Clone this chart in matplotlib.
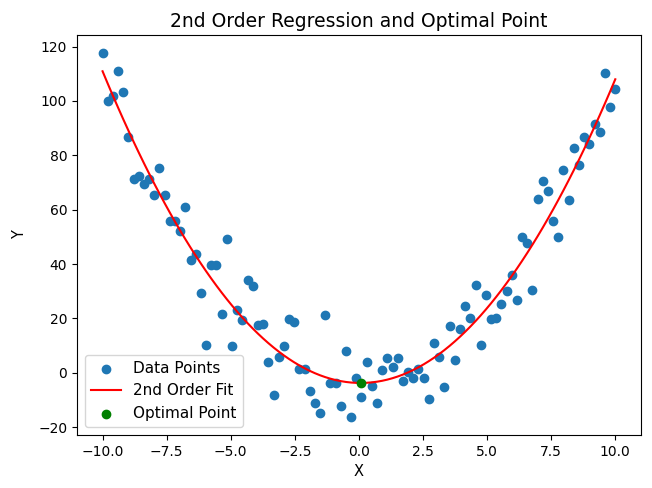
import numpy as np
import matplotlib
matplotlib.use("Agg")
from matplotlib import pyplot as plt

# x grid (100 evenly spaced samples from -10 to 10)
x_vals = [-10.0, -9.8, -9.6, -9.39, -9.19, -8.99, -8.79, -8.59, -8.38, -8.18,
          -7.98, -7.78, -7.58, -7.37, -7.17, -6.97, -6.77, -6.57, -6.36, -6.16,
          -5.96, -5.76, -5.56, -5.35, -5.15, -4.95, -4.75, -4.55, -4.34, -4.14,
          -3.94, -3.74, -3.54, -3.33, -3.13, -2.93, -2.73, -2.53, -2.32, -2.12,
          -1.92, -1.72, -1.52, -1.31, -1.11, -0.91, -0.71, -0.51, -0.3, -0.1,
          0.1, 0.3, 0.51, 0.71, 0.91, 1.11, 1.31, 1.52, 1.72, 1.92,
          2.12, 2.32, 2.53, 2.73, 2.93, 3.13, 3.33, 3.54, 3.74, 3.94,
          4.14, 4.34, 4.55, 4.75, 4.95, 5.15, 5.35, 5.56, 5.76, 5.96,
          6.16, 6.36, 6.57, 6.77, 6.97, 7.17, 7.37, 7.58, 7.78, 7.98,
          8.18, 8.38, 8.59, 8.79, 8.99, 9.19, 9.39, 9.6, 9.8, 10.0]

# noisy y values
y_vals = [117.5, 100.0, 101.8, 111.0, 103.4, 86.7, 71.3, 72.4, 69.4, 71.3,
          65.5, 75.4, 65.5, 56.0, 56.0, 52.2, 60.9, 41.6, 43.8, 29.3,
          10.4, 39.7, 39.7, 21.5, 49.4, 10.0, 23.0, 19.3, 34.2, 31.9,
          17.5, 17.8, 4.1, -8.2, 5.9, 10.0, 19.7, 18.6, 1.5, 1.5,
          -6.7, -11.1, -14.9, 21.3, -3.7, -3.7, -12.1, 8.2, -16.1, -1.9,
          -8.9, 4.1, -4.9, -11.1, 1.1, 5.6, 2.2, 5.6, -3.0, 0.4,
          -1.9, 1.6, -1.9, -9.7, 11.1, 6.0, -5.2, 17.1, 4.9, 16.3,
          24.5, 20.2, 32.2, 10.3, 28.5, 19.7, 20.1, 25.2, 30.1, 36.0,
          26.7, 49.8, 47.9, 30.4, 63.9, 70.6, 66.8, 55.7, 50.1, 74.6,
          63.5, 82.8, 76.5, 86.9, 84.3, 91.4, 88.4, 110.3, 97.7, 104.3]

x = np.array(x_vals)
y = np.array(y_vals)

# second order fit and its vertex
coeffs = np.polyfit(x, y, 2)
fit = np.poly1d(coeffs)
x_opt = -coeffs[1] / (2 * coeffs[0])
y_opt = fit(x_opt)

fig = plt.figure(figsize=(6.52, 4.88), dpi=100)
ax = fig.add_subplot(111)
fig.subplots_adjust(left=0.118, right=0.983, top=0.928, bottom=0.109)

ax.scatter(x, y, label='Data Points')
ax.plot(x, fit(x), color='red', label='2nd Order Fit')
ax.scatter([x_opt], [y_opt], color='green', label='Optimal Point', zorder=3)

ax.set_xlabel('X', fontsize=10.5)
ax.set_ylabel('Y', fontsize=10.5, labelpad=8)
ax.set_title('2nd Order Regression and Optimal Point', fontsize=13.5)
ax.legend(loc='lower left', fontsize=11)

fig.savefig('out.png', dpi=100)
